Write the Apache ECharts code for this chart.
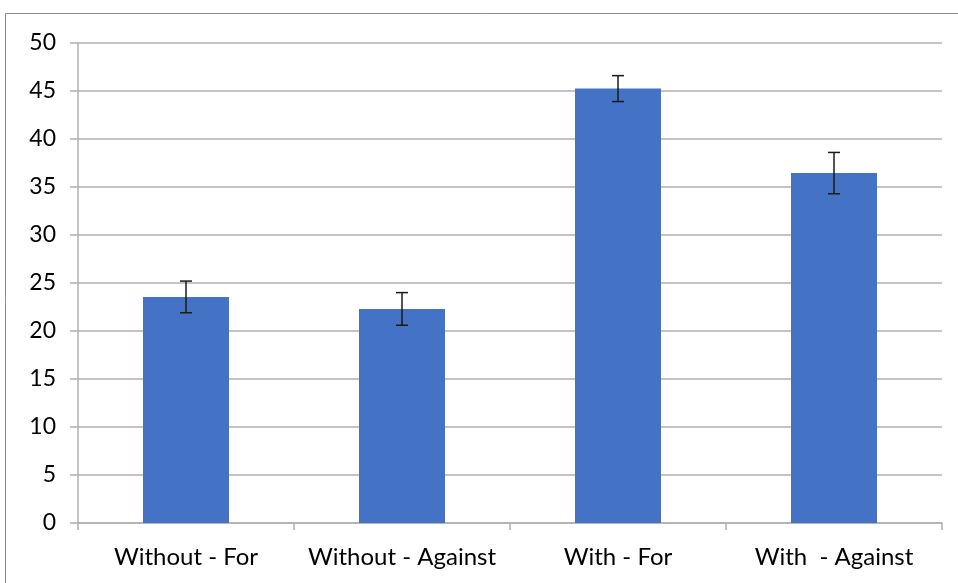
<!DOCTYPE html>
<html>
<head>
<meta charset="utf-8">
<script src="https://cdn.jsdelivr.net/npm/echarts@6/dist/echarts.min.js"></script>
<style>
html,body{margin:0;padding:0;background:#fff;}
#chart{width:958px;height:583px;}
</style>
</head>
<body>
<div id="chart"></div>
<script>
const categories = ['Without - For', 'Without - Against', 'With - For', 'With  - Against'];
const values = [23.55, 22.3, 45.25, 36.45];
const errLow = [21.9, 20.6, 43.9, 34.3];
const errHigh = [25.2, 24.0, 46.6, 38.6];
const yTicks = [0, 5, 10, 15, 20, 25, 30, 35, 40, 45, 50];

const chart = echarts.init(document.getElementById('chart'));
const fontFamily = 'Lato, "Open Sans", sans-serif';
const option = {
  animation: false,
  backgroundColor: '#fff',
  graphic: [{
    type: 'rect',
    shape: {x: 5.5, y: 13.5, width: 1000, height: 1000},
    style: {fill: 'none', stroke: '#8c8c8c', lineWidth: 1},
    silent: true,
    z: -10
  }],
  grid: {left: 78, right: 16, top: 43, bottom: 60},
  xAxis: {
    type: 'category',
    data: categories,
    axisLine: {lineStyle: {color: '#b0b0b0', width: 1.5}},
    axisTick: {show: true, length: 7, interval: 0, lineStyle: {color: '#b0b0b0', width: 1.5}},
    axisLabel: {color: '#000', fontSize: 24, fontFamily: fontFamily, margin: 22, interval: 0}
  },
  yAxis: {
    type: 'value',
    min: yTicks[0],
    max: yTicks[yTicks.length - 1],
    interval: 5,
    axisLine: {show: true, lineStyle: {color: '#b0b0b0', width: 1.5}},
    axisTick: {show: true, length: 8, lineStyle: {color: '#b0b0b0', width: 1.5}},
    axisLabel: {color: '#000', fontSize: 23, fontFamily: fontFamily, margin: 22},
    splitLine: {lineStyle: {color: '#b0b0b0', width: 1.5}}
  },
  series: [{
    type: 'bar',
    data: values,
    barWidth: 86,
    itemStyle: {color: '#4472C4'},
    z: 2
  }, {
    type: 'custom',
    z: 5,
    data: categories.map((c, i) => [i, errLow[i], errHigh[i]]),
    renderItem: function (params, api) {
      const x = api.value(0);
      const lo = api.coord([x, api.value(1)]);
      const hi = api.coord([x, api.value(2)]);
      const hw = 6;
      const style = {stroke: '#1a1a1a', lineWidth: 1.5};
      return {
        type: 'group',
        children: [
          {type: 'line', shape: {x1: lo[0], y1: lo[1], x2: hi[0], y2: hi[1]}, style: style},
          {type: 'line', shape: {x1: lo[0] - hw, y1: lo[1], x2: lo[0] + hw, y2: lo[1]}, style: style},
          {type: 'line', shape: {x1: hi[0] - hw, y1: hi[1], x2: hi[0] + hw, y2: hi[1]}, style: style}
        ]
      };
    }
  }]
};
chart.setOption(option);
</script>
</body>
</html>
